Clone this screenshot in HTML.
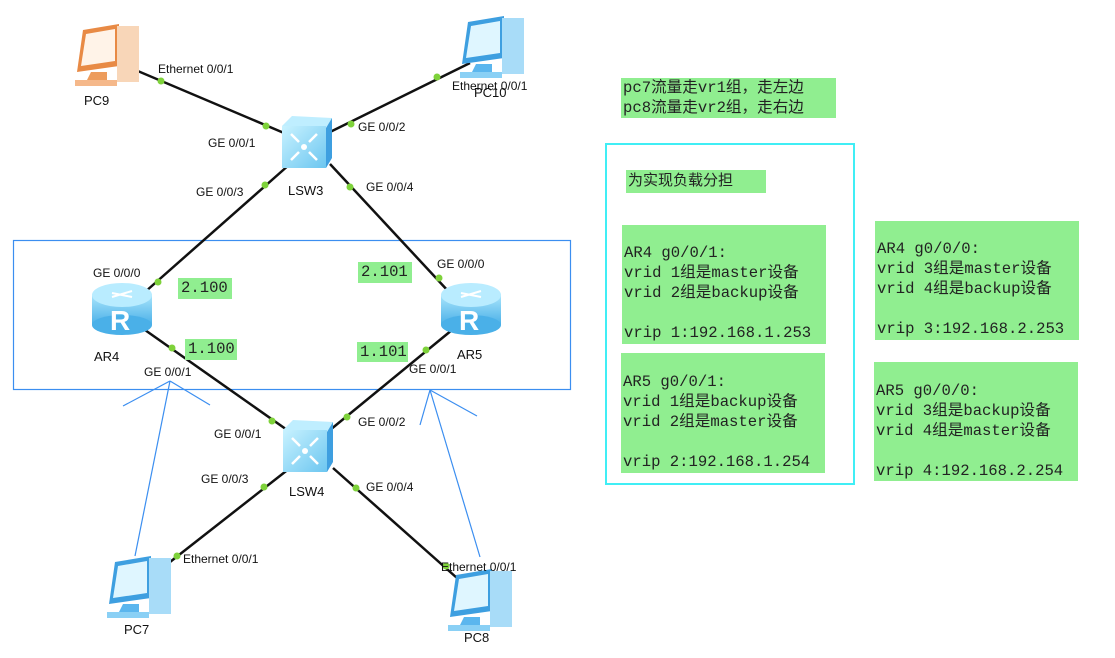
<!DOCTYPE html>
<html><head><meta charset="utf-8"><style>
body{margin:0;background:#fff;width:1115px;height:658px;overflow:hidden;position:relative;font-family:"Liberation Sans","Noto Sans CJK SC",sans-serif}
.g{position:absolute;background:#90ee90}
.m{font-family:"Liberation Mono","Noto Sans CJK SC",monospace;font-size:15.6px;line-height:20px;color:#222;white-space:pre}
</style></head><body>
<svg width="1115" height="658" style="position:absolute;left:0;top:0" font-family="Liberation Sans, sans-serif" font-size="12" fill="#111">
<defs>
<linearGradient id="sw" x1="0" y1="0" x2="1" y2="1"><stop offset="0" stop-color="#c8f2ff"/><stop offset="1" stop-color="#6cc6f0"/></linearGradient>
<linearGradient id="rt" x1="0" y1="0" x2="0" y2="1"><stop offset="0" stop-color="#a8e4fb"/><stop offset="1" stop-color="#4ab0e8"/></linearGradient>
<g id="switch">
<path d="M0 10 L10 0 L50 2 L44 12 Z" fill="#bfeeff"/>
<path d="M44 12 L50 2 L50 42 L44 52 Z" fill="#3e9fe0"/>
<rect x="0" y="10" width="44" height="42" fill="url(#sw)"/>
<circle cx="22" cy="31" r="3" fill="#fff"/>
<path d="M9 18 l8 8 M35 18 l-8 8 M9 44 l8 -8 M35 44 l-8 -8" stroke="#fff" stroke-width="2.5"/>
</g>
<g id="router">
<rect x="0" y="12" width="60" height="30" fill="url(#rt)"/>
<ellipse cx="30" cy="42" rx="30" ry="10" fill="#4ab0e8"/>
<ellipse cx="30" cy="12" rx="30" ry="12" fill="#b9ecff"/>
<path d="M20 10 l20 4 M40 8 l-20 6" stroke="#fff" stroke-width="2"/>
<text x="18" y="47" font-size="28" fill="#fff" font-weight="bold">R</text>
</g>
<g id="pcb">
<path d="M10 0 L46 -6 L46 36 L4 42 Z" fill="#3e9fe0"/>
<path d="M13 4 L42 -1 L42 31 L8 36 Z" fill="#dff6ff"/>
<rect x="44" y="-4" width="22" height="56" fill="#a8dcf8"/>
<path d="M18 42 h16 v8 h-20 Z" fill="#5bb6ee"/>
<rect x="2" y="50" width="42" height="6" fill="#8ad0f5"/>
</g>
<g id="pco">
<path d="M10 0 L46 -6 L46 36 L4 42 Z" fill="#e88a45"/>
<path d="M13 4 L42 -1 L42 31 L8 36 Z" fill="#fff3e8"/>
<rect x="44" y="-4" width="22" height="56" fill="#f8d6b8"/>
<path d="M18 42 h16 v8 h-20 Z" fill="#ed9c5c"/>
<rect x="2" y="50" width="42" height="6" fill="#f5b88a"/>
</g>
</defs>
<rect x="13.5" y="240.5" width="557" height="149" fill="none" stroke="#3b8ef0" stroke-width="1.2"/>
<g stroke="#111" stroke-width="2.5">
<line x1="126" y1="66" x2="284" y2="133"/>
<line x1="470" y1="63" x2="328" y2="133"/>
<line x1="290" y1="164" x2="145" y2="292"/>
<line x1="330" y1="164" x2="449" y2="292"/>
<line x1="145" y1="330" x2="290" y2="432"/>
<line x1="452" y1="330" x2="330" y2="430"/>
<line x1="290" y1="468" x2="170" y2="562"/>
<line x1="333" y1="468" x2="457" y2="578"/>
</g>
<use href="#pco" x="73" y="30"/>
<use href="#pcb" x="458" y="22"/>
<use href="#switch" x="282" y="116"/>
<use href="#switch" x="283" y="420"/>
<use href="#router" x="92" y="283"/>
<use href="#router" x="441" y="283"/>
<use href="#pcb" x="105" y="562"/>
<use href="#pcb" x="446" y="575"/>
<g fill="#7ed23a">
<circle cx="161" cy="81" r="3.5"/><circle cx="266" cy="126" r="3.5"/><circle cx="351" cy="124" r="3.5"/><circle cx="437" cy="77" r="3.5"/>
<circle cx="265" cy="185" r="3.5"/><circle cx="350" cy="187" r="3.5"/><circle cx="158" cy="282" r="3.5"/><circle cx="439" cy="278" r="3.5"/>
<circle cx="172" cy="348" r="3.5"/><circle cx="426" cy="350" r="3.5"/><circle cx="272" cy="421" r="3.5"/><circle cx="347" cy="417" r="3.5"/>
<circle cx="264" cy="487" r="3.5"/><circle cx="356" cy="488" r="3.5"/><circle cx="177" cy="556" r="3.5"/><circle cx="446" cy="566" r="3.5"/>
</g>
<g stroke="#3b8ef0" stroke-width="1.2" fill="none">
<line x1="135" y1="556" x2="170" y2="381"/><line x1="170" y1="381" x2="123" y2="406"/><line x1="170" y1="381" x2="210" y2="405"/>
<line x1="480" y1="557" x2="430" y2="390"/><line x1="430" y1="390" x2="420" y2="425"/><line x1="430" y1="390" x2="477" y2="416"/>
</g>
<text x="158" y="73">Ethernet 0/0/1</text>
<text x="84" y="105" font-size="13">PC9</text>
<text x="452" y="90">Ethernet 0/0/1</text>
<text x="474" y="97" font-size="13">PC10</text>
<text x="208" y="147">GE 0/0/1</text>
<text x="358" y="131">GE 0/0/2</text>
<text x="196" y="196">GE 0/0/3</text>
<text x="366" y="191">GE 0/0/4</text>
<text x="288" y="195" font-size="13">LSW3</text>
<text x="93" y="277">GE 0/0/0</text>
<text x="437" y="268">GE 0/0/0</text>
<text x="94" y="361" font-size="13">AR4</text>
<text x="457" y="359" font-size="13">AR5</text>
<text x="144" y="376">GE 0/0/1</text>
<text x="409" y="373">GE 0/0/1</text>
<text x="214" y="438">GE 0/0/1</text>
<text x="358" y="426">GE 0/0/2</text>
<text x="201" y="483">GE 0/0/3</text>
<text x="366" y="491">GE 0/0/4</text>
<text x="289" y="496" font-size="13">LSW4</text>
<text x="183" y="563">Ethernet 0/0/1</text>
<text x="441" y="571">Ethernet 0/0/1</text>
<text x="124" y="634" font-size="13">PC7</text>
<text x="464" y="642" font-size="13">PC8</text>
</svg>
<div class="g m" style="left:178px;top:278px;width:51px;height:21px;padding-left:3px">2.100</div>
<div class="g m" style="left:358px;top:262px;width:51px;height:21px;padding-left:3px">2.101</div>
<div class="g m" style="left:185px;top:339px;width:49px;height:21px;padding-left:3px">1.100</div>
<div class="g m" style="left:357px;top:342px;width:48px;height:20px;padding-left:3px">1.101</div>
<div class="g m" style="left:621px;top:78px;width:213px;height:40px;padding-left:2px">pc7流量走vr1组，走左边
pc8流量走vr2组，走右边</div>
<div style="position:absolute;left:605px;top:143px;width:250px;height:342px;border:2px solid #40eef5;box-sizing:border-box"></div>
<div class="g" style="left:626px;top:170px;width:138px;height:23px;font-size:15px;line-height:22px;padding-left:2px;color:#222">为实现负载分担</div>
<div class="g m" style="left:622px;top:225px;width:204px;height:119px;padding:18px 0 0 2px;box-sizing:border-box">AR4 g0/0/1:
vrid 1组是master设备
vrid 2组是backup设备

vrip 1:192.168.1.253</div>
<div class="g m" style="left:621px;top:353px;width:204px;height:120px;padding:19px 0 0 2px;box-sizing:border-box">AR5 g0/0/1:
vrid 1组是backup设备
vrid 2组是master设备

vrip 2:192.168.1.254</div>
<div class="g m" style="left:875px;top:221px;width:204px;height:119px;padding:18px 0 0 2px;box-sizing:border-box">AR4 g0/0/0:
vrid 3组是master设备
vrid 4组是backup设备

vrip 3:192.168.2.253</div>
<div class="g m" style="left:874px;top:362px;width:204px;height:119px;padding:19px 0 0 2px;box-sizing:border-box">AR5 g0/0/0:
vrid 3组是backup设备
vrid 4组是master设备

vrip 4:192.168.2.254</div>
</body></html>
